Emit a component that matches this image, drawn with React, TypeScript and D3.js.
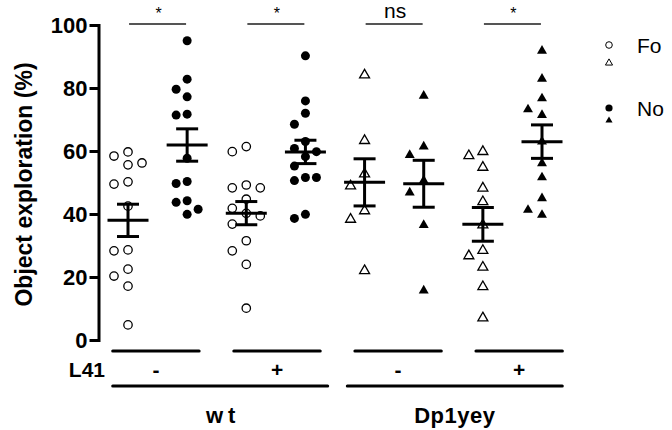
import React, { useRef, useEffect } from "react";
import * as d3 from "d3";

type Group = {
  key: string;
  genotype: number;
  l41: number;
  object: number;
  values: number[];
};

const genotypes = ["wt", "Dp1yey"];
const l41Labels = ["-", "+", "-", "+"];
const objectLabels = ["Fo", "No"];
const sigLabels = ["*", "*", "ns", "*"];
const yTicks = [0, 20, 40, 60, 80, 100];

// object exploration (%) per animal
const wtMinusFo = [59.7, 58.4, 56.2, 55.6, 50.2, 49.5, 42.5, 28.6, 28.3, 22.5, 20.3, 17.1, 4.8];
const wtMinusNo = [95.0, 82.8, 79.6, 77.2, 71.7, 71.4, 57.7, 50.3, 49.7, 44.2, 43.7, 41.5, 39.9];
const wtPlusFo = [61.4, 59.8, 49.2, 48.3, 48.3, 44.7, 41.8, 40.2, 39.4, 36.8, 31.5, 28.3, 24.0, 10.1];
const wtPlusNo = [90.2, 75.9, 72.0, 68.5, 63.0, 60.8, 59.8, 58.2, 55.2, 51.6, 51.6, 50.6, 39.9, 38.6];
const dpMinusFo = [84.1, 63.3, 52.7, 48.9, 41.0, 38.3, 22.0];
const dpMinusNo = [77.5, 61.4, 58.7, 50.6, 46.8, 36.5, 15.7];
const dpPlusFo = [59.8, 58.5, 54.8, 48.2, 43.9, 36.5, 28.4, 26.7, 23.1, 16.9, 7.0];
const dpPlusNo = [91.8, 82.9, 76.7, 73.2, 71.4, 63.0, 56.1, 51.6, 45.0, 41.3, 39.7];

const groups: Group[] = [
  { key: "wt-minus-Fo", genotype: 0, l41: 0, object: 0, values: wtMinusFo },
  { key: "wt-minus-No", genotype: 0, l41: 0, object: 1, values: wtMinusNo },
  { key: "wt-plus-Fo", genotype: 0, l41: 1, object: 0, values: wtPlusFo },
  { key: "wt-plus-No", genotype: 0, l41: 1, object: 1, values: wtPlusNo },
  { key: "dp-minus-Fo", genotype: 1, l41: 2, object: 0, values: dpMinusFo },
  { key: "dp-minus-No", genotype: 1, l41: 2, object: 1, values: dpMinusNo },
  { key: "dp-plus-Fo", genotype: 1, l41: 3, object: 0, values: dpPlusFo },
  { key: "dp-plus-No", genotype: 1, l41: 3, object: 1, values: dpPlusNo },
];

const FONT = "'Liberation Sans', Arial, Helvetica, sans-serif";

// prism style scatter: points go to lanes 0, -1, +1, ... when they would overlap
const laneLayout = (values: number[], y: d3.ScaleLinear<number, number>, minGap: number) => {
  const placed: { py: number; lane: number }[] = [];
  return [...values]
    .sort((a, b) => b - a)
    .map((v) => {
      const py = y(v);
      for (let k = 0; k < 20; k++) {
        const lane = k === 0 ? 0 : k % 2 === 1 ? -Math.ceil(k / 2) : Math.ceil(k / 2);
        if (!placed.some((p) => p.lane === lane && Math.abs(p.py - py) < minGap)) {
          placed.push({ py, lane });
          return { v, lane };
        }
      }
      return { v, lane: 0 };
    });
};

const App: React.FC = () => {
  const svgRef = useRef<SVGSVGElement>(null);

  useEffect(() => {
    const width = 672;
    const height = 430;

    const svg = d3.select(svgRef.current);
    svg.selectAll("*").remove();
    svg.attr("width", width).attr("height", height);

    const y = d3.scaleLinear().domain([0, 100]).range([340, 25]);
    const x = d3.scalePoint<string>().domain(groups.map((g) => g.key)).range([128, 542]);

    const triangle = d3.symbol(d3.symbolTriangle, 43);
    const smallTriangle = d3.symbol(d3.symbolTriangle, 22);

    // y axis
    const axisG = svg
      .append("g")
      .attr("transform", "translate(98.5,0)")
      .call(d3.axisLeft(y).tickValues(yTicks).tickSize(9).tickSizeOuter(0).tickPadding(2));
    axisG.select(".domain").attr("stroke-width", 3).attr("stroke-linecap", "square");
    axisG.selectAll(".tick line").attr("stroke-width", 3);
    axisG
      .selectAll(".tick text")
      .attr("font-family", FONT)
      .attr("font-size", 22)
      .attr("font-weight", "bold")
      .attr("fill", "#000");

    svg
      .append("text")
      .attr("transform", `translate(32,${(y(0) + y(100)) / 2 + 2}) rotate(-90)`)
      .attr("text-anchor", "middle")
      .attr("font-family", FONT)
      .attr("font-size", 23)
      .attr("font-weight", "bold")
      .text("Object exploration (%)");

    // scatter points
    groups.forEach((g) => {
      const cx = x(g.key) as number;
      const open = g.object === 0;
      const laneStep = g.genotype === 0 && !open ? 11 : 14;
      const pts = laneLayout(g.values, y, 12);
      const layer = svg.append("g");

      if (g.genotype === 0) {
        layer
          .selectAll("circle")
          .data(pts)
          .enter()
          .append("circle")
          .attr("cx", (d) => cx + d.lane * laneStep)
          .attr("cy", (d) => y(d.v))
          .attr("r", open ? 4.2 : 4.5)
          .attr("fill", open ? "#fff" : "#000")
          .attr("stroke", "#000")
          .attr("stroke-width", open ? 1.3 : 0);
      } else {
        layer
          .selectAll("path")
          .data(pts)
          .enter()
          .append("path")
          .attr("transform", (d) => `translate(${cx + d.lane * laneStep},${y(d.v)})`)
          .attr("d", triangle() as string)
          .attr("fill", open ? "#fff" : "#000")
          .attr("stroke", "#000")
          .attr("stroke-width", open ? 1.3 : 0);
      }

      // mean +/- SEM
      const mean = d3.mean(g.values) as number;
      const sem = (d3.deviation(g.values) as number) / Math.sqrt(g.values.length);
      const bars = svg.append("g").attr("stroke", "#000").attr("stroke-width", 3);
      bars.append("line").attr("x1", cx - 20.5).attr("x2", cx + 20.5).attr("y1", y(mean)).attr("y2", y(mean));
      bars.append("line").attr("x1", cx).attr("x2", cx).attr("y1", y(mean + sem)).attr("y2", y(mean - sem));
      [mean + sem, mean - sem].forEach((v) => {
        bars.append("line").attr("x1", cx - 11).attr("x2", cx + 11).attr("y1", y(v)).attr("y2", y(v));
      });
    });

    // significance brackets
    sigLabels.forEach((label, i) => {
      const xa = x(groups[2 * i].key) as number;
      const xb = x(groups[2 * i + 1].key) as number;
      const mid = (xa + xb) / 2;
      svg
        .append("line")
        .attr("x1", mid - 28.5)
        .attr("x2", mid + 28.5)
        .attr("y1", y(100) - 1)
        .attr("y2", y(100) - 1)
        .attr("stroke", "#555")
        .attr("stroke-width", 2);
      svg
        .append("text")
        .attr("x", mid + 1)
        .attr("y", label === "ns" ? 17.5 : 19)
        .attr("text-anchor", "middle")
        .attr("font-family", FONT)
        .attr("font-size", label === "ns" ? 21 : 16)
        .text(label);
    });

    // L41 row
    const l41Band = d3
      .scaleBand<number>()
      .domain(l41Labels.map((_, i) => i))
      .range([112.7, 562.4])
      .paddingInner(0.286);

    const table = svg.append("g").attr("font-family", FONT).attr("font-weight", "bold").attr("font-size", 21);

    l41Labels.forEach((label, i) => {
      const x0 = l41Band(i) as number;
      table
        .append("line")
        .attr("x1", x0)
        .attr("x2", x0 + l41Band.bandwidth())
        .attr("y1", 351)
        .attr("y2", 351)
        .attr("stroke", "#000")
        .attr("stroke-width", 3)
        .attr("stroke-linecap", "round");
      table
        .append("text")
        .attr("x", x0 + l41Band.bandwidth() / 2)
        .attr("y", 377)
        .attr("text-anchor", "middle")
        .text(label);
    });
    table.append("text").attr("x", 105).attr("y", 377).attr("text-anchor", "end").text("L41");

    // genotype row
    const genoBand = d3
      .scaleBand<string>()
      .domain(genotypes)
      .range([112.7, 562.3])
      .paddingInner(0.0835);

    genotypes.forEach((label) => {
      const x0 = genoBand(label) as number;
      table
        .append("line")
        .attr("x1", x0)
        .attr("x2", x0 + genoBand.bandwidth())
        .attr("y1", 386)
        .attr("y2", 386)
        .attr("stroke", "#000")
        .attr("stroke-width", 3)
        .attr("stroke-linecap", "round");
      table
        .append("text")
        .attr("x", x0 + genoBand.bandwidth() / 2 + (label === "wt" ? 3 : 0))
        .attr("y", 423)
        .attr("text-anchor", "middle")
        .attr("letter-spacing", label === "wt" ? 5 : 0.5)
        .attr("font-size", 22)
        .text(label);
    });

    // legend
    const legend = svg.append("g").attr("transform", "translate(609,0)");
    objectLabels.forEach((label, i) => {
      const open = i === 0;
      const top = open ? 45 : 108;
      legend
        .append("circle")
        .attr("cx", 0)
        .attr("cy", top)
        .attr("r", open ? 3.3 : 3.6)
        .attr("fill", open ? "#fff" : "#000")
        .attr("stroke", "#000")
        .attr("stroke-width", open ? 1 : 0);
      legend
        .append("path")
        .attr("transform", `translate(0,${top + (open ? 18 : 12.5)})`)
        .attr("d", smallTriangle() as string)
        .attr("fill", open ? "#fff" : "#000")
        .attr("stroke", "#000")
        .attr("stroke-width", open ? 1 : 0);
      legend
        .append("text")
        .attr("x", 28)
        .attr("y", top + 8)
        .attr("font-family", FONT)
        .attr("font-size", 21)
        .text(label);
    });
  }, []);

  return (
    <svg
      ref={svgRef}
      width={672}
      height={430}
      style={{ position: "absolute", left: 0, top: 0, background: "#fff" }}
    ></svg>
  );
};

export default App;
